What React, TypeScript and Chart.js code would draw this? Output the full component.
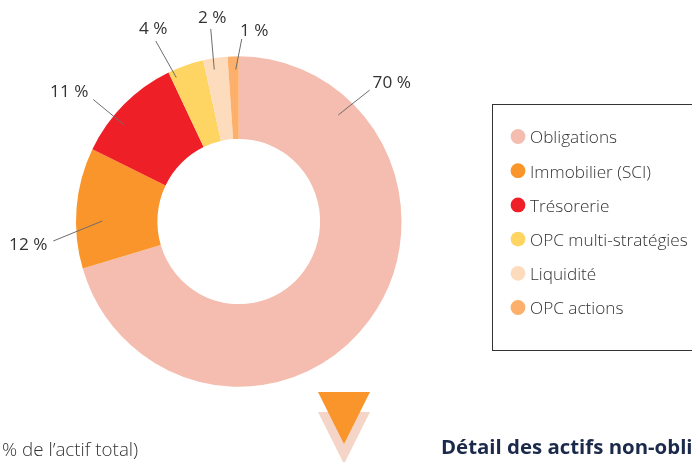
import React, { useEffect, useRef } from "react";
import { Chart, registerables } from "chart.js";

Chart.register(...registerables);

const categories = ["Obligations", "Immobilier (SCI)", "Trésorerie", "OPC multi-stratégies", "Liquidité", "OPC actions"];
const shares = [70.4, 11.8, 10.7, 3.6, 2.4, 1.1];
const valueLabels = ["70 %", "12 %", "11 %", "4 %", "2 %", "1 %"];
const sliceColors = ["#f4bdaf", "#f9952a", "#ef1f28", "#fed462", "#fddcbd", "#fdb06b"];

const FONT = '"Open Sans", sans-serif';
const TEXT = "#333335";
const STRETCH_Y = 1.015;

// leader lines: [inner dx, inner dy, outer dx, outer dy, label dx, label dy] relative to the doughnut centre
const leaders = [
  [99.5, -106.5, 131, -131.5, 153, -138.5],
  [-136.5, -0.5, -185.5, 19.5, -210.5, 24],
  [-114.5, -96.5, -145.5, -122, -169.5, -129.5],
  [-62.5, -144, -83, -180.5, -85.5, -192.5],
  [-24.5, -152, -28, -192.5, -26.5, -203.5],
  [-3, -152, 3, -182.5, 15.5, -190],
];

const overlay = {
  id: "overlay",
  beforeDatasetsDraw(chart: any) {
    const ctx = chart.ctx;
    ctx.save();
    ctx.fillStyle = "#f4d5c8";
    ctx.beginPath();
    ctx.moveTo(318, 412);
    ctx.lineTo(370, 412);
    ctx.lineTo(344, 464);
    ctx.closePath();
    ctx.fill();
    ctx.fillStyle = "#f9952a";
    ctx.beginPath();
    ctx.moveTo(318, 392);
    ctx.lineTo(370, 392);
    ctx.lineTo(344, 444);
    ctx.closePath();
    ctx.fill();
    ctx.textBaseline = "middle";
    ctx.textAlign = "left";
    ctx.fillStyle = TEXT;
    ctx.font = `300 18.8px ${FONT}`;
    ctx.fillText("% de l’actif total)", 2, 451);
    ctx.fillStyle = "#1b2a4a";
    ctx.font = `700 20.4px ${FONT}`;
    ctx.fillText("Détail des actifs non-obligataires", 441, 448.5);
    ctx.strokeStyle = "#333333";
    ctx.lineWidth = 1;
    ctx.strokeRect(492.5, 104.5, 240, 246);
    categories.forEach((name, i) => {
      const y = 136.5 + i * 34.2;
      ctx.fillStyle = sliceColors[i];
      ctx.beginPath();
      ctx.arc(518, y, 7.4, 0, Math.PI * 2);
      ctx.fill();
      ctx.fillStyle = TEXT;
      ctx.font = `300 17.2px ${FONT}`;
      ctx.fillText(name, 530, y + 2);
    });
    ctx.restore();
    // the reference ring is very slightly taller than wide
    const arc = chart.getDatasetMeta(0).data[0];
    ctx.save();
    ctx.translate(0, arc.y);
    ctx.scale(1, STRETCH_Y);
    ctx.translate(0, -arc.y);
  },
  afterDatasetsDraw(chart: any) {
    const ctx = chart.ctx;
    ctx.restore();
    const arc = chart.getDatasetMeta(0).data[0];
    const cx = arc.x;
    const cy = arc.y;
    ctx.save();
    ctx.strokeStyle = "#6d6d6d";
    ctx.lineWidth = 1;
    ctx.fillStyle = TEXT;
    ctx.font = `400 17.2px ${FONT}`;
    ctx.textAlign = "center";
    ctx.textBaseline = "middle";
    valueLabels.forEach((label, i) => {
      const [x0, y0, x1, y1, tx, ty] = leaders[i];
      ctx.beginPath();
      ctx.moveTo(cx + x0, cy + y0);
      ctx.lineTo(cx + x1, cy + y1);
      ctx.stroke();
      ctx.fillText(label, cx + tx, cy + ty);
    });
    ctx.restore();
  },
};

export default function App() {
  const ref = useRef<HTMLCanvasElement>(null);
  useEffect(() => {
    document.body.style.margin = "0";
    document.body.style.overflow = "hidden";
    const chart = new Chart(ref.current!, {
      type: "doughnut",
      data: {
        labels: categories,
        datasets: [{ data: shares, backgroundColor: sliceColors, borderWidth: 0 }],
      },
      options: {
        responsive: false,
        animation: false,
        cutout: "50%",
        layout: { padding: { left: 76, right: 290.5, top: 58.75, bottom: 77.75 } },
        plugins: { legend: { display: false }, tooltip: { enabled: false } },
      },
      plugins: [overlay],
    });
    return () => chart.destroy();
  }, []);
  return <canvas ref={ref} width={692} height={462} style={{ display: "block" }} />;
}
